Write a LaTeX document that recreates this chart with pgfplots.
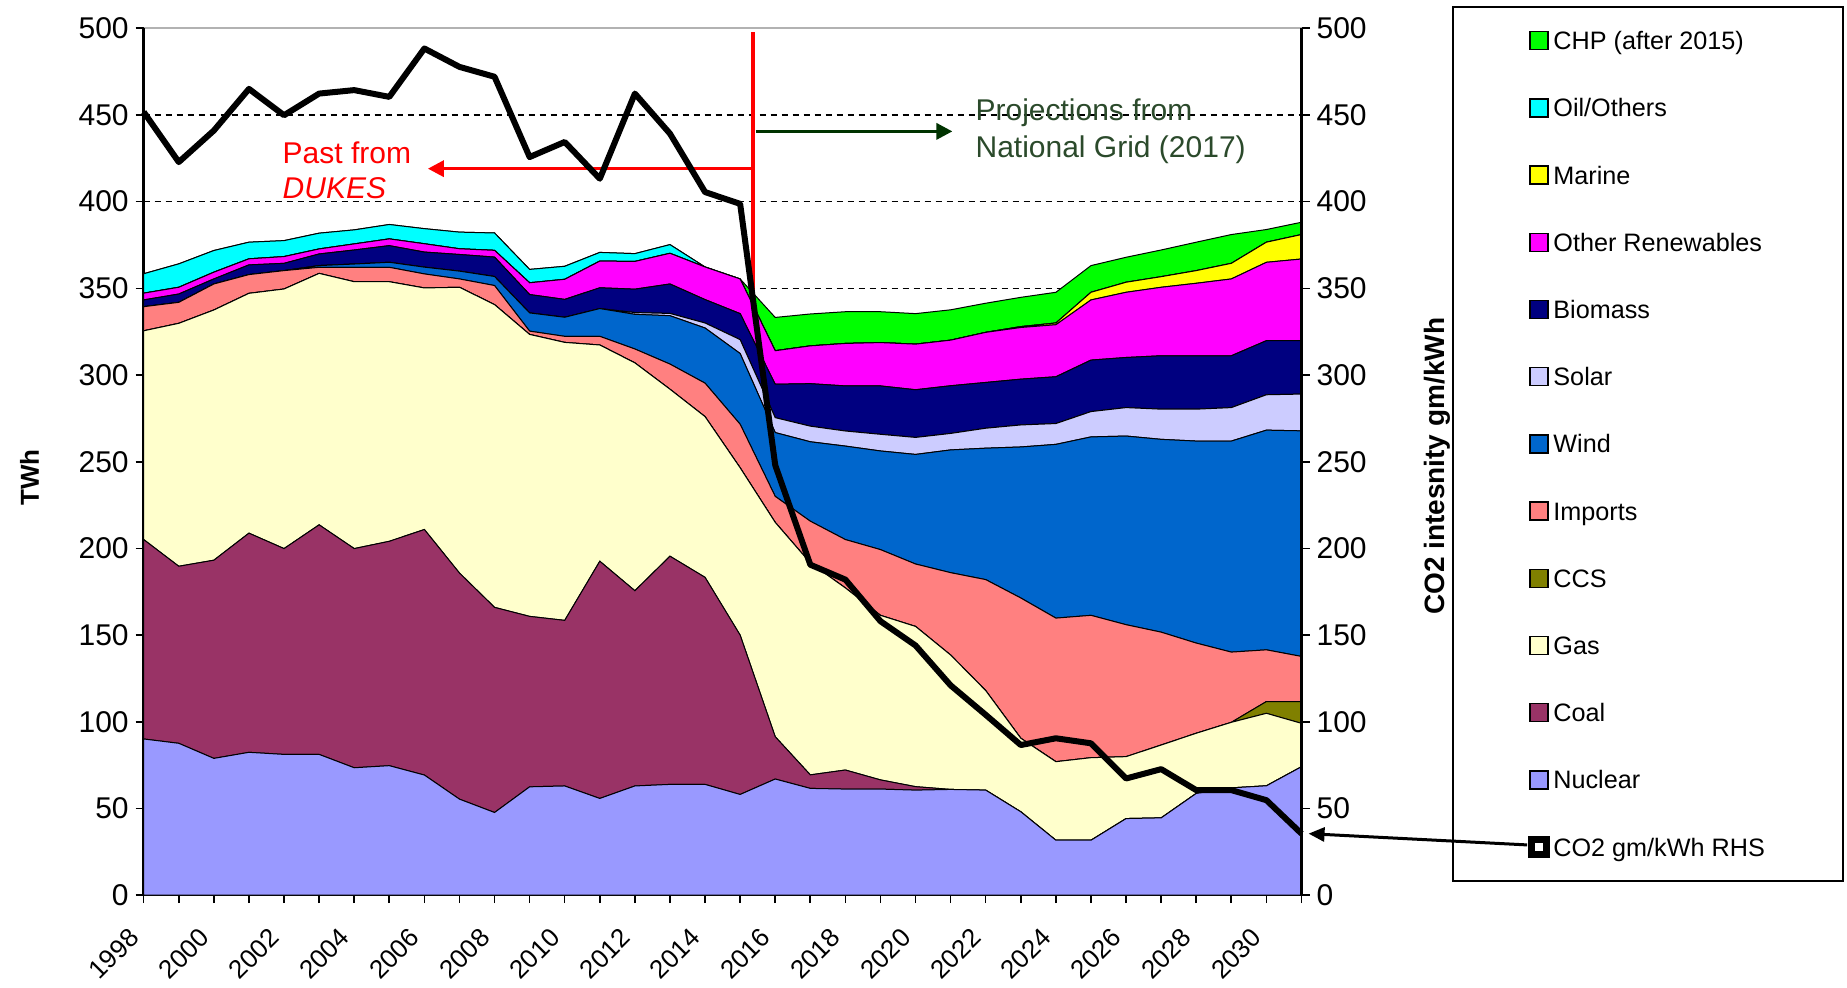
\documentclass[border=0pt]{standalone}
\usepackage{fontspec}
\setmainfont{Liberation Sans}
\usepackage{pgfplots}
\pgfplotsset{compat=1.18}
\usepackage{pgfplotstable}
\usetikzlibrary{arrows.meta}

\definecolor{cNuc}{HTML}{9999FF}
\definecolor{cCoal}{HTML}{993366}
\definecolor{cGas}{HTML}{FFFFCC}
\definecolor{cCCS}{HTML}{808000}
\definecolor{cImp}{HTML}{FF8080}
\definecolor{cWind}{HTML}{0066CC}
\definecolor{cSolar}{HTML}{CCCCFF}
\definecolor{cBio}{HTML}{000080}
\definecolor{cRen}{HTML}{FF00FF}
\definecolor{cMar}{HTML}{FFFF00}
\definecolor{cOil}{HTML}{00FFFF}
\definecolor{cCHP}{HTML}{00FF00}
\definecolor{dgreen}{HTML}{003300}
\definecolor{tgreen}{HTML}{2B4A2B}

\pgfplotstableread{
year N C G S I W P B R M O H CO
1998 90.1 115.0 120.4 0 13.9 0 0 3.9 3.9 0 11.2 0 451.7
1999 87.6 102.1 140.1 0 12.1 0 0 4.8 3.9 0 13.5 0 422.8
2000 78.9 114.3 144.3 0 15.0 0 0 2.9 3.9 0 12.5 0 441.0
2001 82.4 126.4 138.3 0 10.8 0 0 5.6 3.5 0 9.6 0 465.0
2002 81.2 118.7 149.7 0 10.6 0 0 4.2 3.9 0 9.2 0 449.8
2003 81.2 132.4 145.0 0 3.5 1.0 0 6.7 2.9 0 9.1 0 462.3
2004 73.5 126.4 153.9 0 8.3 1.9 0 8.1 3.5 0 8.1 0 464.3
2005 74.7 129.4 149.7 0 8.3 2.9 0 9.6 3.9 0 8.3 0 460.4
2006 69.3 141.6 139.3 0 8.1 3.9 0 8.7 4.8 0 8.7 0 488.3
2007 55.4 130.4 164.8 0 4.8 4.5 0 9.6 3.3 0 9.6 0 477.7
2008 47.7 118.3 174.6 0 11.0 5.2 0 11.2 3.9 0 10.0 0 472.0
2009 62.5 98.3 162.6 0 1.9 10.5 0 10.6 6.8 0 7.7 0 425.7
2010 63.0 95.5 160.3 0 3.5 11.0 0 10.3 11.6 0 7.5 0 434.4
2011 55.8 136.8 124.7 0 5.0 16.0 0 12.0 15.4 0 5.0 0 413.2
2012 63.0 112.6 131.4 0 8.0 20.0 1.0 13.5 16.0 0 4.5 0 462.3
2013 63.9 131.6 96.3 0 14.5 27.9 1.3 17.0 17.7 0 5.0 0 439.2
2014 63.9 119.4 92.7 0 19.3 31.8 2.9 13.5 18.8 0 0 0 405.5
2015 58.1 91.9 96.5 0 25.1 40.8 8.0 15.0 20.0 0 0 0 398.7
2016 67.0 24.4 123.6 0 15.0 36.8 8.6 19.3 19.3 0 0 19.2 248.0
2017 61.6 7.8 122.2 0 24.1 45.8 9.0 24.5 21.8 0 0 18.4 190.6
2018 61.2 11.0 105.0 0 27.9 53.9 8.7 26.0 24.5 0 0 18.3 182.0
2019 61.2 5.3 94.9 0 37.9 56.9 9.6 27.9 25.0 0 0 17.8 158.0
2020 60.6 2.0 92.4 0 36.0 63.2 9.8 27.5 26.3 0 0 17.6 144.0
2021 61.0 0 77.5 0 47.5 70.8 9.5 27.5 26.3 0 0 17.5 121.0
2022 60.6 0 57.4 0 64.0 75.8 11.5 26.4 28.9 0 0 16.8 104.0
2023 48.1 0 42.4 0 80.9 87.1 12.7 26.4 29.8 0.5 0 16.9 86.6
2024 31.7 0 45.3 0 82.8 100.2 12.0 27.0 30.0 1.0 0 17.7 90.5
2025 31.7 0 47.6 0 82.1 102.9 14.6 29.7 34.7 4.4 0 15.4 87.6
2026 44.2 0 35.7 0 76.1 108.8 16.4 28.9 37.6 5.8 0 14.4 67.3
2027 44.6 0 42.0 0 65.1 111.2 17.4 30.8 39.5 6.1 0 15.4 72.7
2028 58.7 0 34.7 0 52.0 116.5 18.4 30.8 41.8 7.3 0 16.4 60.6
2029 61.9 0 37.8 0 40.5 121.7 19.3 29.9 44.3 9.0 0 16.6 60.6
2030 63.1 0 41.8 6.8 29.8 126.7 20.4 31.2 45.2 11.6 0 7.3 54.8
2031 74.1 0 25.0 12.6 26.0 130.1 21.2 30.8 47.1 14.1 0 7.1 35.5
}\datatable

\begin{document}
\begin{tikzpicture}
\path[use as bounding box] (-71.85pt,-45.9pt) rectangle (851.65pt,447.6pt);
\begin{axis}[
  at={(0pt,0pt)}, anchor=south west,
  width=578.9pt, height=433.5pt, scale only axis,
  xmin=1998, xmax=2031, ymin=0, ymax=500,
  clip=false,
  axis x line*=bottom, axis y line*=left,
  xtick={1998,1999,...,2031},
  xticklabels={1998,,2000,,2002,,2004,,2006,,2008,,2010,,2012,,2014,,2016,,2018,,2020,,2022,,2024,,2026,,2028,,2030,{}},
  xticklabel style={font=\fontsize{13}{13}\selectfont, inner sep=0pt, xshift=-8pt, yshift=-11.5pt, rotate=45, anchor=north east},
  ytick={0,50,...,500},
  yticklabel style={font=\fontsize{15}{15}\selectfont},
  /pgf/number format/assume math mode=true,
  tick align=outside, major tick length=4pt,
  tick style={black, line width=0.8pt},
  ymajorgrids, grid style={black, dash pattern=on 3pt off 2.5pt, line width=0.6pt},
  axis line style={black, line width=1.2pt},
  ylabel={TWh},
  every axis y label/.style={at={(axis description cs:-0.0987,0.482)}, rotate=90, anchor=center, font=\bfseries\fontsize{13}{15}\selectfont},
  stack plots=y,
  reverse legend,
  legend image code/.code={\draw[#1, draw=black, line width=0.7pt] (0pt,-4.5pt) rectangle (9pt,4.5pt);},
  legend style={at={(1.1300,1.0256)}, anchor=north west, draw=black, line width=0.8pt,
    inner xsep=37.5pt, inner ysep=10.9pt, row sep=21.6pt, column sep=0pt,
    font=\fontsize{12.6}{14}\selectfont,
    nodes={inner xsep=1.5pt, inner ysep=0pt, text height=10.5pt, text depth=1.5pt},
    cells={anchor=west}},
]
\addlegendimage{legend image code/.code={\fill[black] (-0.75pt,-5.25pt) rectangle (9.75pt,5.25pt); \fill[white] (2.75pt,-1.75pt) rectangle (6.25pt,1.75pt);}}
\addlegendentry{CO2 gm/kWh RHS}
\addplot[fill=cNuc, draw=black, line width=0.5pt] table[x=year,y=N]{\datatable} \closedcycle;
\addlegendentry{Nuclear}
\addplot[fill=cCoal, draw=black, line width=0.5pt] table[x=year,y=C]{\datatable} \closedcycle;
\addlegendentry{Coal}
\addplot[fill=cGas, draw=black, line width=0.5pt] table[x=year,y=G]{\datatable} \closedcycle;
\addlegendentry{Gas}
\addplot[fill=cCCS, draw=black, line width=0.5pt] table[x=year,y=S]{\datatable} \closedcycle;
\addlegendentry{CCS}
\addplot[fill=cImp, draw=black, line width=0.5pt] table[x=year,y=I]{\datatable} \closedcycle;
\addlegendentry{Imports}
\addplot[fill=cWind, draw=black, line width=0.5pt] table[x=year,y=W]{\datatable} \closedcycle;
\addlegendentry{Wind}
\addplot[fill=cSolar, draw=black, line width=0.5pt] table[x=year,y=P]{\datatable} \closedcycle;
\addlegendentry{Solar}
\addplot[fill=cBio, draw=black, line width=0.5pt] table[x=year,y=B]{\datatable} \closedcycle;
\addlegendentry{Biomass}
\addplot[fill=cRen, draw=black, line width=0.5pt] table[x=year,y=R]{\datatable} \closedcycle;
\addlegendentry{Other Renewables}
\addplot[fill=cMar, draw=black, line width=0.5pt] table[x=year,y=M]{\datatable} \closedcycle;
\addlegendentry{Marine}
\addplot[fill=cOil, draw=black, line width=0.5pt] table[x=year,y=O]{\datatable} \closedcycle;
\addlegendentry{Oil/Others}
\addplot[fill=cCHP, draw=black, line width=0.5pt] table[x=year,y=H]{\datatable} \closedcycle;
\addlegendentry{CHP (after 2015)}
% redraw axis lines over areas, grey top border
\draw[black, line width=1.2pt] (rel axis cs:0,0) -- (rel axis cs:1,0);
\draw[black, line width=1.2pt] (rel axis cs:0,0) -- (rel axis cs:0,1);
\draw[gray!60, line width=1pt] (rel axis cs:0,1) -- (rel axis cs:1,1);
% annotations
\draw[red, line width=2pt] (axis cs:2015.36,5) -- (axis cs:2015.36,498);
\draw[red, line width=1.7pt, -{Triangle[length=8pt,width=8pt]}] (axis cs:2015.36,419) -- (axis cs:2006.1,419);
\draw[dgreen, line width=1.7pt, -{Triangle[length=8pt,width=8pt]}] (axis cs:2015.45,440.5) -- (axis cs:2021.05,440.5);
\node[red, anchor=west, inner sep=0pt, font=\fontsize{15}{15}\selectfont] at (axis cs:2001.95,428) {Past from};
\node[red, anchor=west, inner sep=0pt, font=\itshape\fontsize{15}{15}\selectfont] at (axis cs:2001.95,407.5) {DUKES};
\node[tgreen, anchor=west, inner sep=0pt, font=\fontsize{15}{15}\selectfont] at (axis cs:2021.7,451) {Projections from};
\node[tgreen, anchor=west, inner sep=0pt, font=\fontsize{15}{15}\selectfont] at (axis cs:2021.7,430) {National Grid (2017)};
\end{axis}
\begin{axis}[
  at={(0pt,0pt)}, anchor=south west,
  width=578.9pt, height=433.5pt, scale only axis,
  xmin=1998, xmax=2031, ymin=0, ymax=500,
  clip=false,
  axis x line=none, axis y line*=right,
  ytick={0,50,...,500},
  yticklabel style={font=\fontsize{15}{15}\selectfont},
  /pgf/number format/assume math mode=true,
  tick align=outside, major tick length=4pt,
  tick style={black, line width=0.8pt},
  axis line style={black, line width=1.2pt},
  ylabel={CO2 intesnity gm/kWh},
  every axis y label/.style={at={(axis description cs:1.117,0.4946)}, rotate=90, anchor=center, font=\bfseries\fontsize{14}{16}\selectfont},
]
\addplot[black, line width=3pt, line join=round] table[x=year,y=CO]{\datatable};
\draw[black, line width=1.5pt, -{Triangle[length=8pt,width=7pt]}] (axis cs:2037.43,29) -- (axis cs:2031.2,35.5);
\end{axis}
\end{tikzpicture}
\end{document}
